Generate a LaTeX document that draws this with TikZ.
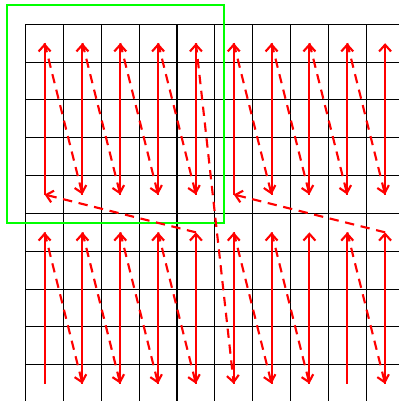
\documentclass[tikz,border=0pt]{standalone}
\usetikzlibrary{arrows.meta}

\begin{document}
\begin{tikzpicture}[
  gridline/.style={black, line width=0.8pt},
  scanline/.style={red, line width=1.6pt, -{Straight Barb[length=5pt,width=9pt]}},
  jumpline/.style={scanline, dash pattern=on 7pt off 5pt},
  window/.style={green, line width=2pt}
]
\useasboundingbox (-0.679,0.642) rectangle (9.868,-9.958);
\clip (-0.679,0.642) rectangle (9.868,-9.958);

% grid of cells
\draw[gridline] (0,-10) grid (10,0);

% end points of the scan lines, upper and lower block
\foreach \c in {1,...,10} {
  \coordinate (ut\c) at (\c-0.5,-0.5);
  \coordinate (ub\c) at (\c-0.5,-4.5);
  \coordinate (lt\c) at (\c-0.5,-5.5);
  \coordinate (lb\c) at (\c-0.5,-9.5);
}

% window
\draw[window] (-0.494,0.51) rectangle (5.242,-5.252);

% columns
\foreach \c in {1,...,10} {
  \draw[scanline] (ub\c) -- (ut\c);
  \draw[scanline] (lb\c) -- (lt\c);
}

% jumps
\foreach \a/\b in {1/2,2/3,3/4,4/5,6/7,7/8,8/9,9/10}
  \draw[jumpline] (ut\a) -- (ub\b);
\foreach \a/\b in {1/2,2/3,3/4,4/5,6/7,7/8,9/10}
  \draw[jumpline] (lt\a) -- (lb\b);
\draw[jumpline] (ut5) -- (lb6);
\draw[jumpline] (lt5) -- (ub1);
\draw[jumpline] (lt10) -- (ub6);
\end{tikzpicture}
\end{document}
